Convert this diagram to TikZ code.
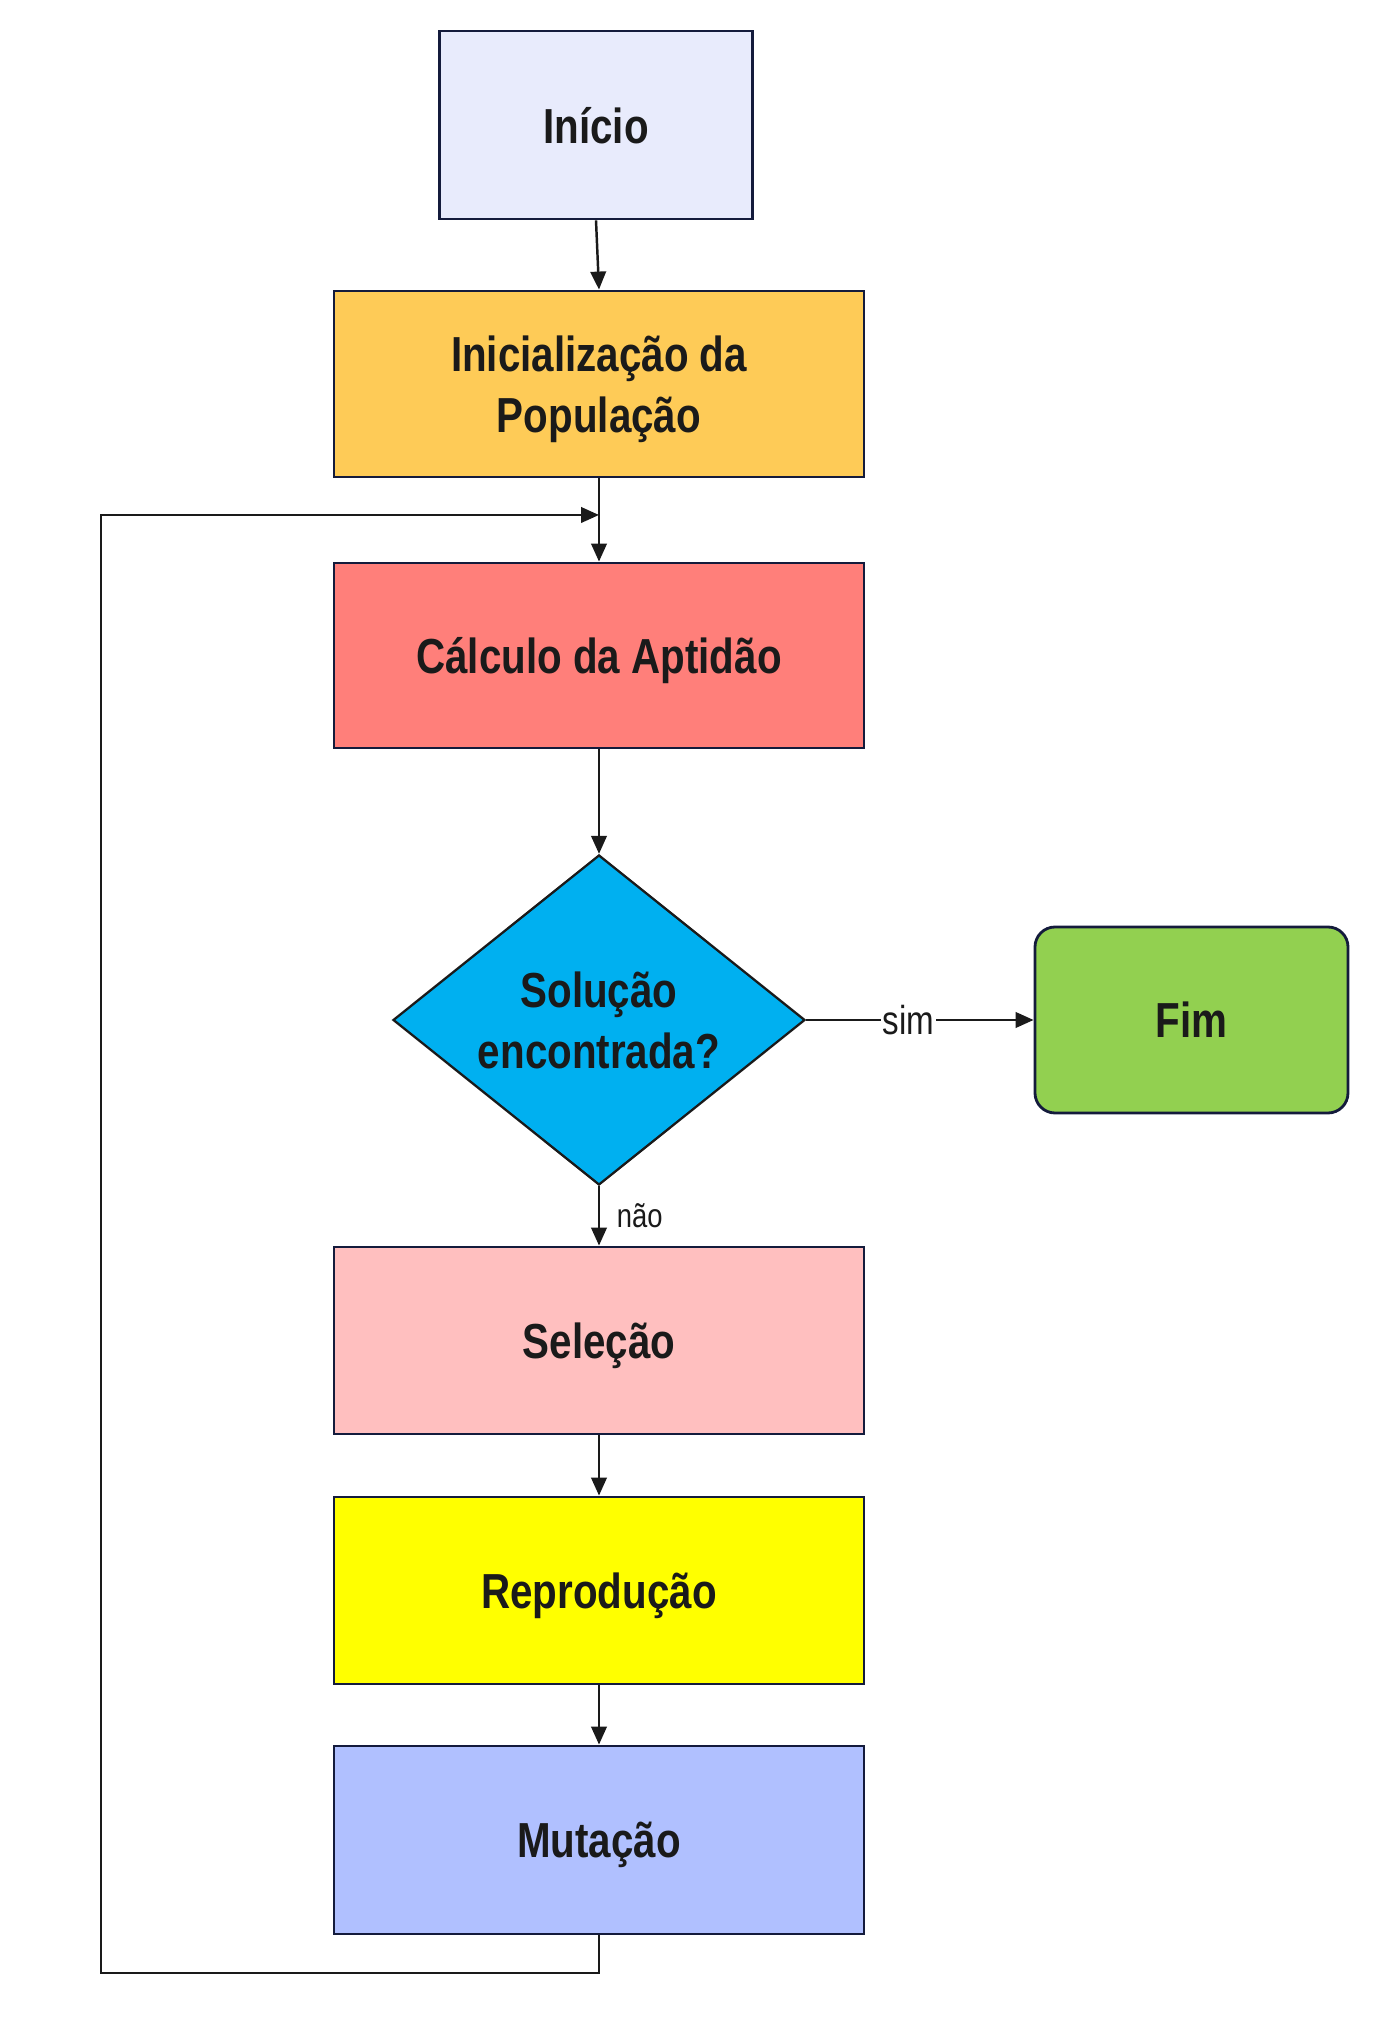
\documentclass[tikz,border=0pt]{standalone}
\usepackage{fontspec}
\setmainfont{Liberation Sans}[FakeStretch=0.82]
\usetikzlibrary{shapes.geometric,arrows.meta}

\definecolor{cInicio}{HTML}{E8EBFC}
\definecolor{cInit}{HTML}{FECB57}
\definecolor{cCalc}{HTML}{FF7F7A}
\definecolor{cDec}{HTML}{00B0F0}
\definecolor{cFim}{HTML}{92D050}
\definecolor{cSel}{HTML}{FFBFBF}
\definecolor{cRep}{HTML}{FFFF00}
\definecolor{cMut}{HTML}{B0C0FF}
\definecolor{cBorda}{HTML}{141B3C}
\definecolor{cSeta}{HTML}{1A1A1A}

\tikzset{
  caixa/.style={rectangle, draw=cBorda, line width=1.6pt, minimum width=10.6cm, minimum height=3.72cm, align=center, text=cSeta, text depth=0pt, font=\bfseries\fontsize{28}{35}\selectfont},
  seta/.style={draw=cSeta, line width=1.4pt, -{Triangle[length=0.36cm,width=0.31cm]}},
  rotulo/.style={text=cSeta, inner sep=1pt}
}

\begin{document}
\begin{tikzpicture}
\useasboundingbox (0,0) rectangle (27.94,40.66);

\node (Inicio) at (11.92,38.16) [caixa, fill=cInicio, minimum width=6.26cm, minimum height=3.76cm] {Início};
\node (Init) at (11.98,32.98) [caixa, fill=cInit] {Inicialização da\\População};
\node (Calc) at (11.98,27.55) [caixa, fill=cCalc, minimum height=3.7cm] {Cálculo da Aptidão};
\node (Dec) at (11.98,20.26) [diamond, aspect=1.25, inner sep=0pt, draw=cSeta, line width=1.3pt, fill=cDec, minimum width=8.24cm, minimum height=6.6cm, align=center, text=cSeta, text depth=0pt, font=\bfseries\fontsize{28}{35}\selectfont] {Solução\\encontrada?};
\node (Fim) at (23.83,20.26) [caixa, fill=cFim, rounded corners=0.4cm, minimum width=6.26cm] {Fim};
\node (Sel) at (11.98,13.85) [caixa, fill=cSel, minimum height=3.74cm] {Seleção};
\node (Rep) at (11.98,8.85) [caixa, fill=cRep, minimum height=3.74cm] {Reprodução};
\node (Mut) at (11.98,3.86) [caixa, fill=cMut, minimum height=3.76cm] {Mutação};

% fluxo principal
\draw[seta] (Inicio.south) -- (Init.north);
\draw[seta] (Init.south) -- (Calc.north);
\draw[seta] (Calc.south) -- (Dec.north);
\draw[seta] (Dec.east) -- node[rotulo, fill=white, pos=0.45, font=\fontsize{23}{26}\selectfont] {sim} (Fim.west);
\draw[seta] (Dec.south) -- node[rotulo, anchor=west, xshift=0.3cm, font=\fontsize{19}{22}\selectfont] {não} (Sel.north);
\draw[seta] (Sel.south) -- (Rep.north);
\draw[seta] (Rep.south) -- (Mut.north);

% volta do laco
\coordinate (Juncao) at (11.98,30.36);
\draw[seta] (Mut.south) |- (2.02,1.2) |- (Juncao);

\end{tikzpicture}
\end{document}
